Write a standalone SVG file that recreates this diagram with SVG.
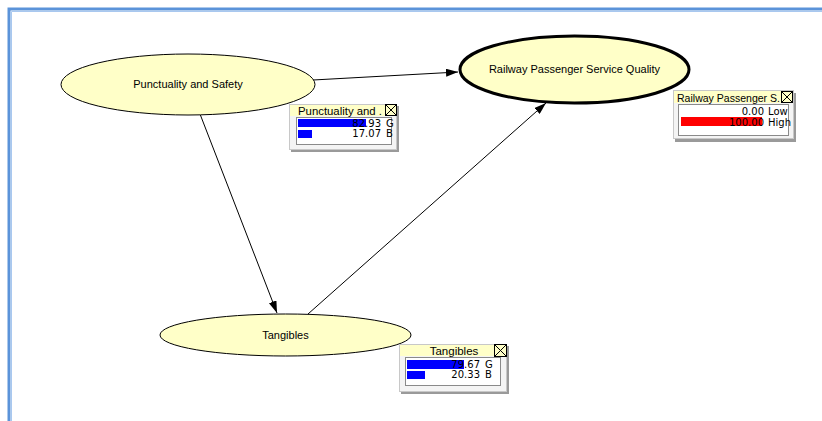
<svg xmlns="http://www.w3.org/2000/svg" width="822" height="421" viewBox="0 0 822 421">
<style>
.node{fill:#ffffc8;stroke:#000;stroke-width:1}
.nt{font-family:"Liberation Sans",Arial,sans-serif;font-size:11px;fill:#000;text-anchor:middle}
.mt{font-family:"DejaVu Sans","Liberation Sans",sans-serif;font-size:10px;fill:#000}
.tt{font-family:"Liberation Sans",Arial,sans-serif;font-size:11.5px;fill:#000}
.bar{fill:#0000ff}
.edge{stroke:#000;stroke-width:1;fill:none;marker-end:url(#ah)}
.mbody{fill:#f4f4f4;stroke:#c8c8c8;stroke-width:1}
.mshadow{fill:#9a9a9a}
.mtitle{fill:#ffffc8}
.minner{fill:#fff;stroke:#8a8a8a;stroke-width:1}
.close{fill:#ffffc8;stroke:#000;stroke-width:1}
</style>
<defs>
<marker id="ah" markerWidth="12" markerHeight="8" refX="12" refY="4" orient="auto" markerUnits="userSpaceOnUse">
<path d="M0,0 L12,4 L0,8 z" fill="#000"/>
</marker>
<clipPath id="c1"><rect x="290" y="104" width="95" height="13"/></clipPath>
<clipPath id="c2"><rect x="674" y="90" width="107" height="14"/></clipPath>
</defs>
<rect width="822" height="421" fill="#fff"/>
<path d="M9,421 V9 H822" fill="none" stroke="#5b93d9" stroke-width="3"/>
<path d="M11.5,421 V11.5 H822" fill="none" stroke="#a9c8ef" stroke-width="1"/>

<g id="connectors">
<line class="edge" x1="313" y1="80" x2="458" y2="72"/>
<line class="edge" x1="200" y1="114" x2="277" y2="313"/>
<line class="edge" x1="308" y1="314" x2="546" y2="103"/>
</g>

<g id="node-punctuality">
<ellipse class="node" cx="188" cy="84.5" rx="127" ry="30.5"/>
<text class="nt" x="188" y="88">Punctuality and Safety</text>
</g>
<g id="node-railway">
<ellipse class="node" cx="574.5" cy="69.5" rx="114.5" ry="33.5" style="stroke-width:3"/>
<text class="nt" x="574.5" y="73">Railway Passenger Service Quality</text>
</g>
<g id="node-tangibles">
<ellipse class="node" cx="285.5" cy="335" rx="125.5" ry="21"/>
<text class="nt" x="285.5" y="339">Tangibles</text>
</g>

<g id="monitor-punctuality">
<rect class="mshadow" x="291" y="106" width="108" height="46"/>
<rect class="mbody" x="289.5" y="104.5" width="107" height="45"/>
<rect class="mtitle" x="290" y="105" width="106" height="11"/>
<text class="tt" x="298" y="115" clip-path="url(#c1)" textLength="84" lengthAdjust="spacingAndGlyphs">Punctuality and .</text>
<rect class="close" x="385.5" y="104.5" width="11" height="11"/>
<path d="M385.5,104.5 L396.5,115.5 M396.5,104.5 L385.5,115.5" stroke="#000" stroke-width="1"/>
<rect class="minner" x="296.5" y="117.5" width="95" height="27"/>
<rect class="bar" x="298" y="119" width="68" height="8"/>
<rect class="bar" x="298" y="130" width="14" height="8"/>
<text class="mt" x="381" y="126.5" text-anchor="end">82.93</text>
<text class="mt" x="386" y="126.5">G</text>
<text class="mt" x="381" y="137" text-anchor="end">17.07</text>
<text class="mt" x="386" y="137">B</text>
</g>

<g id="monitor-railway">
<rect class="mshadow" x="675" y="93" width="121" height="49"/>
<rect class="mbody" x="673.5" y="90.5" width="120" height="48"/>
<rect class="mtitle" x="674" y="91" width="119" height="12"/>
<text class="tt" x="677" y="102" clip-path="url(#c2)" textLength="103" lengthAdjust="spacingAndGlyphs">Railway Passenger S.</text>
<rect class="close" x="781.5" y="91.5" width="11" height="11"/>
<path d="M781.5,91.5 L792.5,102.5 M792.5,91.5 L781.5,102.5" stroke="#000" stroke-width="1"/>
<rect class="minner" x="678.5" y="104.5" width="110" height="31"/>
<rect x="681" y="117" width="81" height="9" fill="#ff0000"/>
<text class="mt" x="764" y="115" text-anchor="end">0.00</text>
<text class="mt" x="768" y="115">Low</text>
<text class="mt" x="764" y="125.5" text-anchor="end">100.00</text>
<text class="mt" x="768" y="125.5">High</text>
</g>

<g id="monitor-tangibles">
<rect class="mshadow" x="401" y="346" width="108" height="48"/>
<rect class="mbody" x="399.5" y="344.5" width="107" height="47"/>
<rect class="mtitle" x="400" y="345" width="106" height="11"/>
<text class="tt" x="454" y="355" text-anchor="middle">Tangibles</text>
<rect class="close" x="494.5" y="344.5" width="12" height="12"/>
<path d="M494.5,344.5 L506.5,356.5 M506.5,344.5 L494.5,356.5" stroke="#000" stroke-width="1"/>
<rect class="minner" x="405.5" y="357.5" width="95" height="28"/>
<rect class="bar" x="407" y="360" width="57" height="9"/>
<rect class="bar" x="407" y="371" width="18" height="8"/>
<text class="mt" x="480" y="367.5" text-anchor="end">79.67</text>
<text class="mt" x="485" y="367.5">G</text>
<text class="mt" x="480" y="378" text-anchor="end">20.33</text>
<text class="mt" x="485" y="378">B</text>
</g>
</svg>
